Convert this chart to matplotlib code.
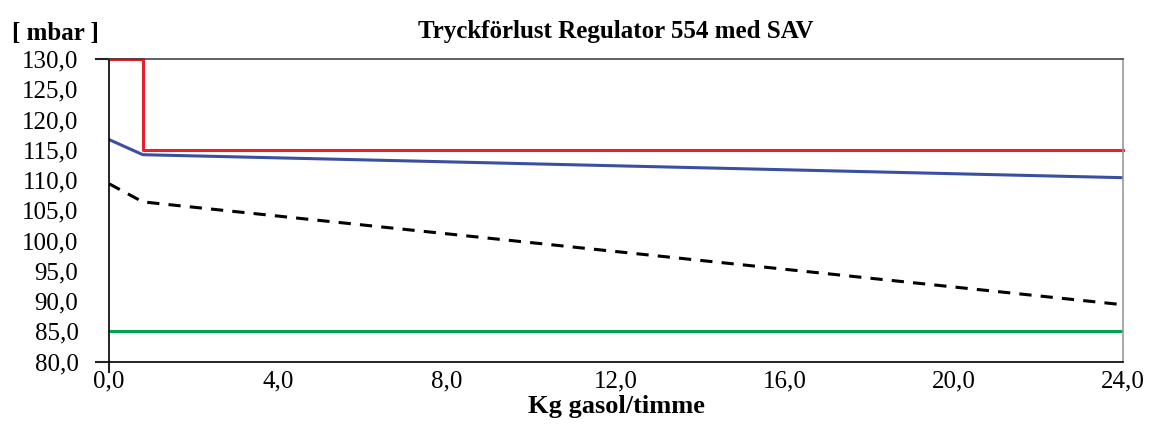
import matplotlib
matplotlib.use("Agg")
from matplotlib import pyplot as plt
from matplotlib.ticker import FuncFormatter

# data
flow = [0.0, 0.8, 24.0]
red_x = [0.0, 0.8, 0.8, 24.0]
red_y = [130.0, 130.0, 115.0, 115.0]
blue_y = [116.7, 114.2, 110.4]
black_y = [109.4, 106.4, 89.4]
green_y = [85.0, 85.0, 85.0]

plt.rcParams['font.family'] = ['Liberation Serif', 'DejaVu Serif']

fig = plt.figure(figsize=(11.5, 4.41), dpi=100)
ax = fig.add_axes([0.0948, 0.18, 0.8817, 0.686])

ax.plot(red_x, red_y, color="#E8202A", lw=2.2, clip_on=False)
ax.plot(flow, blue_y, color="#3A4FA0", lw=2.2)
ax.plot(flow, black_y, color="black", lw=2.2, ls=(0, (4, 3)))
ax.plot(flow, green_y, color="#00A550", lw=2.2)

ax.set_xlim(0, 24)
ax.set_ylim(80, 130)
ax.set_xticks([0, 4, 8, 12, 16, 20, 24])
ax.set_yticks(range(80, 131, 5))
fmt = FuncFormatter(lambda v, p: f"{v:.1f}".replace(".", ","))
ax.xaxis.set_major_formatter(fmt)
ax.yaxis.set_major_formatter(fmt)
ax.tick_params(axis="both", which="major", length=0, labelsize=18, pad=6)
ax.tick_params(axis="y", pad=22)

# the reference only marks the corners of the axis frame
ytr = ax.get_yaxis_transform()
for yv in (80, 130):
    ax.plot([-0.0125, 0], [yv, yv], transform=ytr, color="#222222", lw=1.5, clip_on=False)
ax.plot([0, 0], [-0.035, 0], transform=ax.transAxes, color="#222222", lw=1.5, clip_on=False)

ax.spines["left"].set_color("black")
ax.spines["bottom"].set_color("black")
ax.spines["top"].set_color("#444444")
ax.spines["right"].set_color("#999999")
for s in ax.spines.values():
    s.set_linewidth(1.2)

ax.set_title("Tryckförlust Regulator 554 med SAV", fontsize=18, fontweight="bold", pad=15)
ax.set_xlabel("Kg gasol/timme", fontsize=19, fontweight="bold", labelpad=2)
fig.text(0.01, 0.925, "[ mbar ]", fontsize=18, fontweight="bold", va="center", ha="left")

plt.savefig("out.png", dpi=100)
